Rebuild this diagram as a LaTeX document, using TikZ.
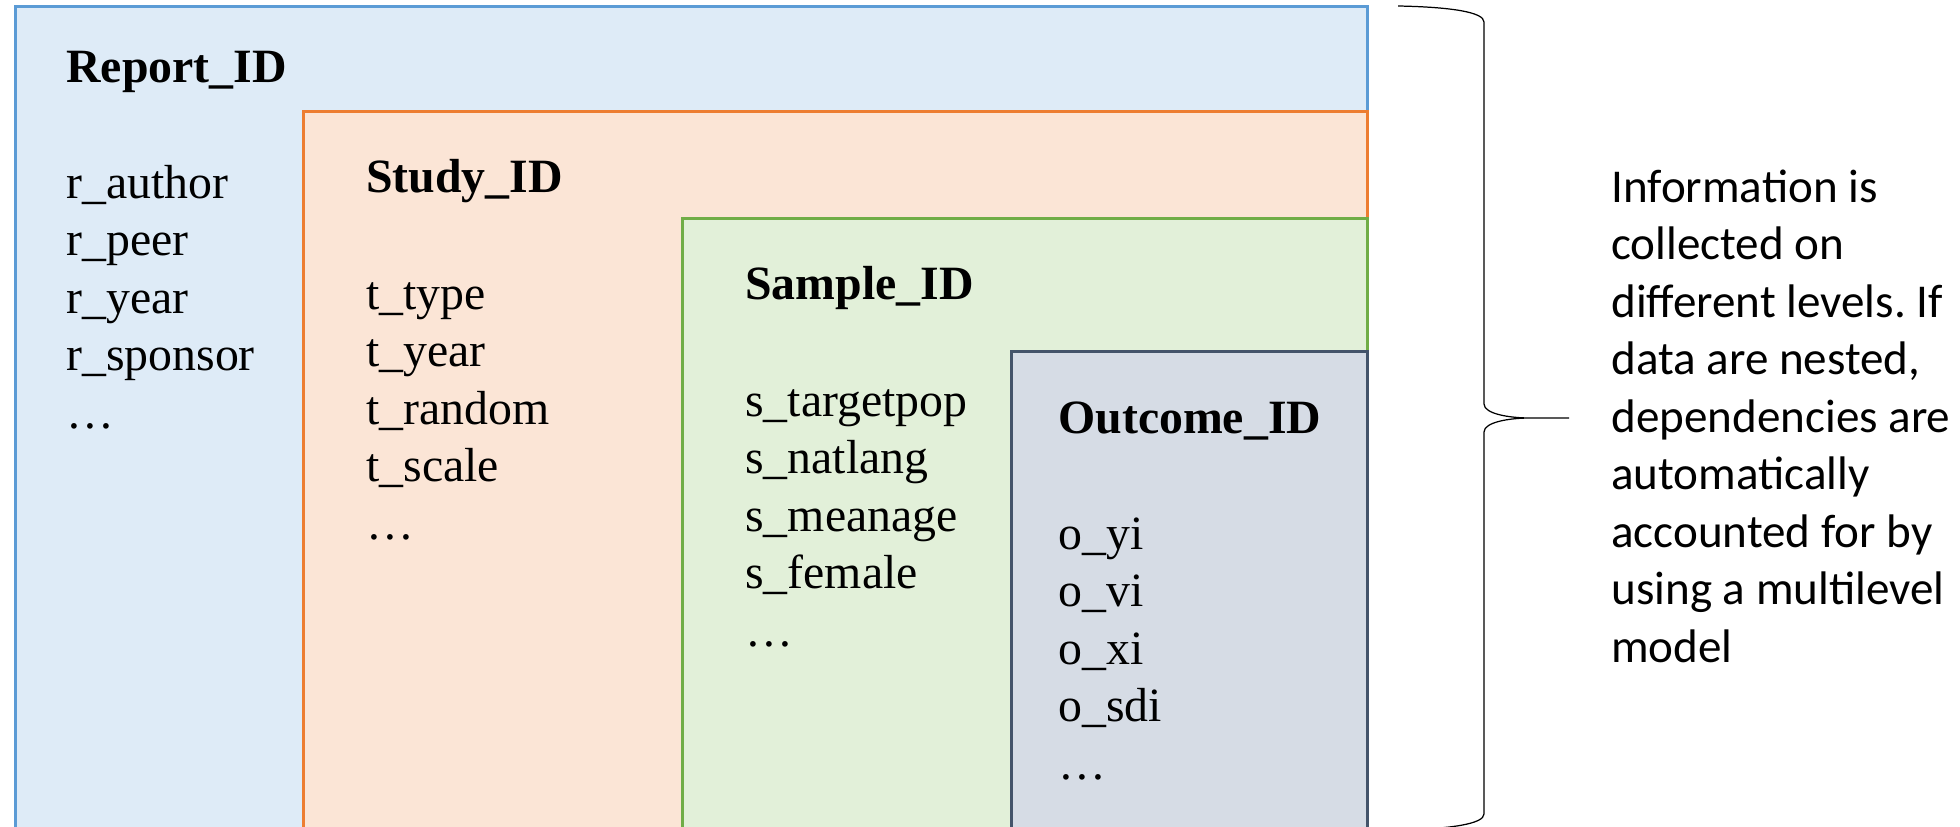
\documentclass[tikz,border=0pt]{standalone}
\usepackage{fontspec}
\setmainfont{Liberation Serif}
\newfontfamily\notefont{Carlito}
\usetikzlibrary{positioning}
\frenchspacing

\definecolor{reportfill}{HTML}{DEEBF7}
\definecolor{reportline}{HTML}{5B9BD5}
\definecolor{studyfill}{HTML}{FBE5D6}
\definecolor{studyline}{HTML}{ED7D31}
\definecolor{samplefill}{HTML}{E2F0D9}
\definecolor{sampleline}{HTML}{70AD47}
\definecolor{outcomefill}{HTML}{D6DCE5}
\definecolor{outcomeline}{HTML}{44546A}

\tikzset{
  levelbox/.style={rectangle, draw, line width=1.6pt, inner sep=0pt, anchor=north west, minimum height=16.8cm},
  idlabel/.style={anchor=base west, inner sep=0pt, font=\fontsize{27.2}{32.7}\selectfont\bfseries},
  varlist/.style={anchor=base west, inner sep=0pt, align=left, font=\fontsize{27.2}{32.7}\selectfont},
  notetext/.style={anchor=base west, inner sep=0pt, align=left, font=\notefont\fontsize{26.8}{32.7}\selectfont},
  bracket/.style={draw, line width=0.7pt}
}

\begin{document}
\begin{tikzpicture}[x=0.02cm, y=-0.02cm]
    \useasboundingbox (0,0) rectangle (1960,827);
    \clip (0,0) rectangle (1960,827);
    % nested levels
    \node [levelbox, fill=reportfill, draw=reportline, minimum width=27.04cm] (report) at (14,5) {};
    \node [levelbox, fill=studyfill, draw=studyline, minimum width=21.28cm] (study) at (302,110) {};
    \node [levelbox, fill=samplefill, draw=sampleline, minimum width=13.70cm] (sample) at (681,217) {};
    \node [levelbox, fill=outcomefill, draw=outcomeline, minimum width=7.12cm] (outcome) at (1010,350) {};
    % ids and variables (lists sit on the baseline of their last line)
    \node [idlabel] (reportID) at (66,83) {Report\_ID};
    \node [varlist] (reportVars) at (66,428) {r\_author\\r\_peer\\r\_year\\r\_sponsor\\…};
    \node [idlabel] (studyID) at (366,193) {Study\_ID};
    \node [varlist] (studyVars) at (366,539) {t\_type\\t\_year\\t\_random\\t\_scale\\…};
    \node [idlabel] (sampleID) at (745,300) {Sample\_ID};
    \node [varlist] (sampleVars) at (745,646) {s\_targetpop\\s\_natlang\\s\_meanage\\s\_female\\…};
    \node [idlabel] (outcomeID) at (1058,433) {Outcome\_ID};
    \node [varlist] (outcomeVars) at (1058,779) {o\_yi\\o\_vi\\o\_xi\\o\_sdi\\…};
    % brace and note
    \coordinate (braceTop) at (1398,6);
    \coordinate (braceTip) at (1569,418);
    \coordinate (braceBottom) at (1398,830);
    \path [bracket] (braceTop) .. controls (1450,7) and (1484,12) .. (1484,22)
        -- (1484,404) .. controls (1484,414) and (1510,418) .. (1530,418) -- (braceTip)
        (1530,418) .. controls (1510,418) and (1484,422) .. (1484,432)
        -- (1484,814) .. controls (1484,824) and (1450,829) .. (braceBottom);
    \node [notetext] (note) at (1611,662) {Information is\\collected on\\different levels. If\\data are nested,\\dependencies are\\automatically\\accounted for by\\using a multilevel\\model};
\end{tikzpicture}
\end{document}
